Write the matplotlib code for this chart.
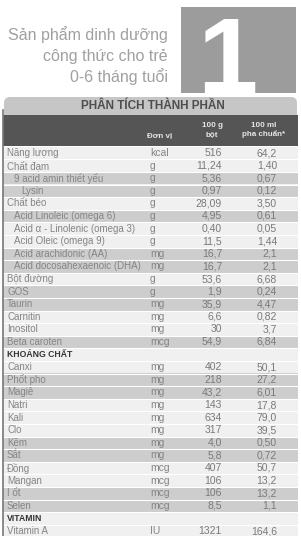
import matplotlib
matplotlib.use('Agg')
import matplotlib.pyplot as plt
from matplotlib.patches import Rectangle, FancyBboxPatch

plt.rcParams['font.family'] = ['Liberation Sans', 'DejaVu Sans']

# data
title_lines = ['Sản phẩm dinh dưỡng', 'công thức cho trẻ', '0-6 tháng tuổi']
big_number = '1'
table_title = 'PHÂN TÍCH THÀNH PHẦN'
col_headers = ['Đơn vị', '100 g\nbột', '100 ml\npha chuẩn*']

labels = ['Năng lượng', 'Chất đạm', '9 acid amin thiết yếu', 'Lysin', 'Chất béo',
          'Acid Linoleic (omega 6)', 'Acid α - Linolenic (omega 3)', 'Acid Oleic (omega 9)',
          'Acid arachidonic (AA)', 'Acid docosahexaenoic (DHA)', 'Bột đường', 'GOS',
          'Taurin', 'Carnitin', 'Inositol', 'Beta caroten', 'KHOÁNG CHẤT', 'Canxi',
          'Phốt pho', 'Magiê', 'Natri', 'Kali', 'Clo', 'Kẽm', 'Sắt', 'Đồng', 'Mangan',
          'I ốt', 'Selen', 'VITAMIN', 'Vitamin A']
units = ['kcal', 'g', 'g', 'g', 'g', 'g', 'g', 'g', 'mg', 'mg', 'g', 'g', 'mg', 'mg',
         'mg', 'mcg', '', 'mg', 'mg', 'mg', 'mg', 'mg', 'mg', 'mg', 'mg', 'mcg', 'mcg',
         'mcg', 'mcg', '', 'IU']
per_100g = ['516', '11,24', '5,36', '0,97', '28,09', '4,95', '0,40', '11,5', '16,7',
            '16,7', '53,6', '1,9', '35,9', '6,6', '30', '54,9', '', '402', '218', '43,2',
            '143', '634', '317', '4,0', '5,8', '407', '106', '106', '8,5', '', '1321']
per_100ml = ['64,2', '1,40', '0,67', '0,12', '3,50', '0,61', '0,05', '1,44', '2,1',
             '2,1', '6,68', '0,24', '4,47', '0,82', '3,7', '6,84', '', '50,1', '27,2',
             '6,01', '17,8', '79,0', '39,5', '0,50', '0,72', '50,7', '13,2', '13,2', '1,1',
             '', '164,6']
level = [0, 0, 1, 2, 0, 1, 1, 1, 1, 1, 0, 0, 0, 0, 0, 0, 0, 0, 0, 0, 0, 0, 0, 0, 0,
         0, 0, 0, 0, 0, 0]
sections = ['KHOÁNG CHẤT', 'VITAMIN']
shaded = [2, 3, 5, 8, 9, 11, 12, 15, 18, 19, 23, 24, 27, 28]

fig = plt.figure(figsize=(3.01, 5.36), dpi=100)
ax = fig.add_axes([0, 0, 1, 1])
ax.set_xlim(0, 301)
ax.set_ylim(536, 0)
ax.axis('off')

# heading block
box = Rectangle((181, 7), 115, 86, color='#9c9c9c', lw=0)
ax.add_patch(box)
one = ax.text(227, 93, big_number, weight='bold', fontsize=78,
              color='white', ha='center', va='baseline')
one.set_clip_path(box)
for i, line in enumerate(title_lines):
    ax.text(168, 35 + i * 21, line, fontsize=11.5, color='#a0a0a0', ha='right', va='center')

# table header
ax.add_patch(FancyBboxPatch((4, 97), 293, 30, boxstyle='round,pad=0,rounding_size=6',
                            color='#c6c6c6', lw=0))
ax.add_patch(Rectangle((3, 115), 295, 31, color='#555555', lw=0))
ax.text(153, 106, table_title, fontsize=8.5, weight='bold', color='#4e4e4e',
        ha='center', va='center')
hx = [160, 212, 264]
hy = [136, 130, 130]
for x, y, h in zip(hx, hy, col_headers):
    ax.text(x, y, h, fontsize=5.8, weight='bold', color='#e6e6e6', ha='center',
            va='center', linespacing=1.3)

# body
row_h = 12.6
y0 = 153
top = y0 - row_h / 2
ax.add_patch(Rectangle((3, top), 295, 536 - top, color='#f0f0f0', lw=0))
for i in range(len(labels)):
    y = y0 + i * row_h
    if i in shaded:
        ax.add_patch(Rectangle((3, y - row_h / 2), 295, row_h, color='#cdcdcd', lw=0))
    ax.plot([3, 298], [y + row_h / 2, y + row_h / 2], color='white', lw=0.8)
    if labels[i] in sections:
        ax.text(7, y, labels[i], fontsize=6.2, weight='bold', color='#333333',
                ha='left', va='center')
        continue
    ax.text(7 + 7 * level[i], y, labels[i], fontsize=7, color='#858585',
            ha='left', va='center')
    ax.text(150, y, units[i], fontsize=7.5, color='#858585', ha='left', va='center')
    ax.text(222, y, per_100g[i], fontsize=7.5, color='#7a7a7a', ha='right', va='center')
    ax.text(277, y, per_100ml[i], fontsize=7.5, color='#7a7a7a', ha='right', va='center')

ax.plot([3, 3], [110, 536], color='#777777', lw=1.2)

fig.savefig('out.png', dpi=100)
